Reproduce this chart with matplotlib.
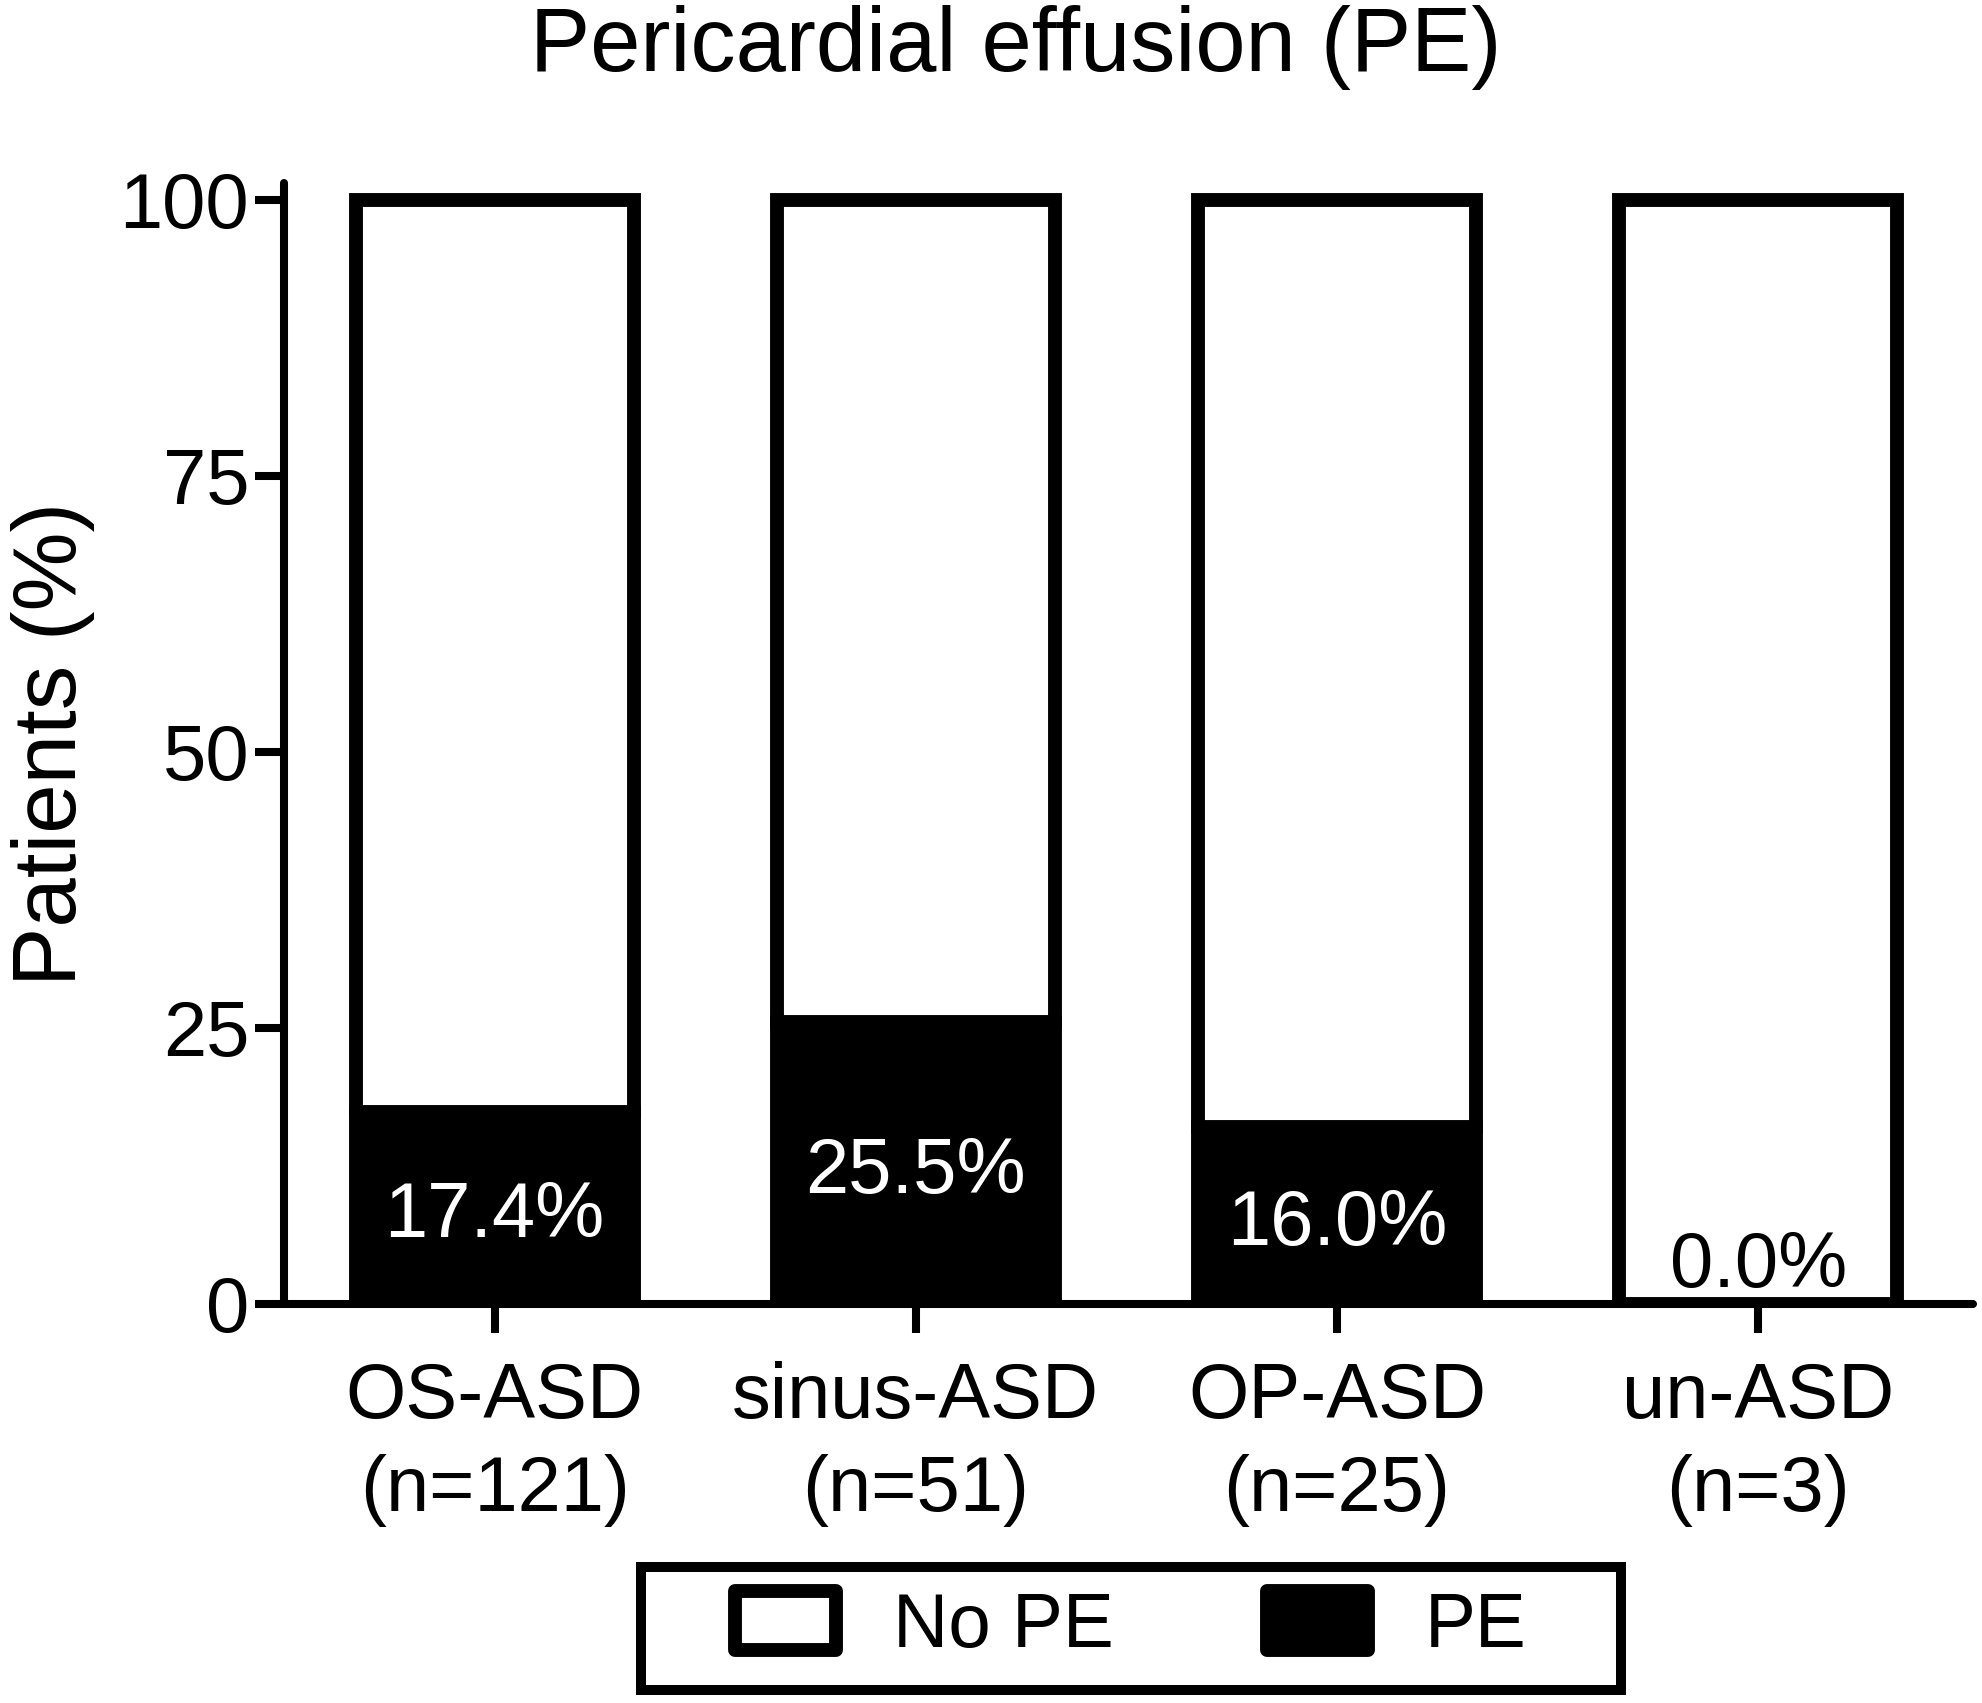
import matplotlib
matplotlib.use("Agg")
import matplotlib.pyplot as plt
from matplotlib.patches import Patch, Rectangle
from matplotlib.legend_handler import HandlerPatch

plt.rcParams['font.family'] = ['Liberation Sans', 'DejaVu Sans']

categories = ["OS-ASD\n(n=121)", "sinus-ASD\n(n=51)", "OP-ASD\n(n=25)", "un-ASD\n(n=3)"]
pe_pct = [17.4, 25.5, 16.0, 0.0]
no_pe_pct = [100 - v for v in pe_pct]
yticks = [0, 25, 50, 75, 100]
title = "Pericardial effusion (PE)"
ylabel = "Patients (%)"
legend_labels = ["No PE", "PE"]

fig = plt.figure(figsize=(19.83, 17.03), dpi=100)
ax = fig.add_axes([0.1432, 0.2343, 0.8518, 0.6582])

x = list(range(len(categories)))
lw_bar = 10
ax.bar(x, pe_pct, width=0.66, color="black", edgecolor="black", linewidth=lw_bar, zorder=3)
ax.bar(x, no_pe_pct, bottom=pe_pct, width=0.66, color="white", edgecolor="black",
       linewidth=lw_bar, zorder=3)

for xi, v in zip(x, pe_pct):
    col = "white" if v > 0 else "black"
    ax.text(xi, max(v / 2 - 0.8, 3.4), f"{v:.1f}%", ha="center", va="center",
            color=col, fontsize=56, zorder=5)

ax.set_xlim(-0.5, 3.51)
ax.set_ylim(0, 101.5)
ax.set_yticks(yticks)
ax.set_yticklabels([str(t) for t in yticks])
ax.set_xticks(x)
ax.set_xticklabels(categories, linespacing=1.36)

for side in ["top", "right"]:
    ax.spines[side].set_visible(False)
for side in ["left", "bottom"]:
    ax.spines[side].set_linewidth(5.8)
    ax.spines[side].set_capstyle("round")
    ax.spines[side].set_zorder(4)

ax.tick_params(axis="both", direction="out", length=21, width=5.8, labelsize=56, color="black")
ax.tick_params(axis="y", pad=4)
ax.tick_params(axis="x", pad=20)

ax.set_ylabel(ylabel, fontsize=64)
ax.yaxis.set_label_coords(-0.112, 0.5)

fig.suptitle(title, x=0.512, y=0.972, va="center", fontsize=65)


def rounded_rect(legend, orig_handle, xdescent, ydescent, width, height, fontsize):
    return Rectangle((-xdescent, -ydescent), width, height, joinstyle="round")


handles = [Patch(facecolor="white", edgecolor="black", linewidth=10, joinstyle="round"),
           Patch(facecolor="black", edgecolor="black", linewidth=10, joinstyle="round")]
leg = fig.legend(handles, legend_labels, loc="center", bbox_to_anchor=(0.5703, 0.0445),
                 ncol=2, frameon=False, fontsize=55, handlelength=1.32, handleheight=0.8,
                 handletextpad=0.75, columnspacing=2.0,
                 handler_map={Patch: HandlerPatch(patch_func=rounded_rect)})
for h in leg.legend_handles:
    h.set_joinstyle("round")

fig.patches.append(Rectangle((0.3232, 0.0076), 0.4942, 0.0722, transform=fig.transFigure,
                             fill=False, edgecolor="black", linewidth=7.2, figure=fig))

fig.savefig("out.png", dpi=100)
